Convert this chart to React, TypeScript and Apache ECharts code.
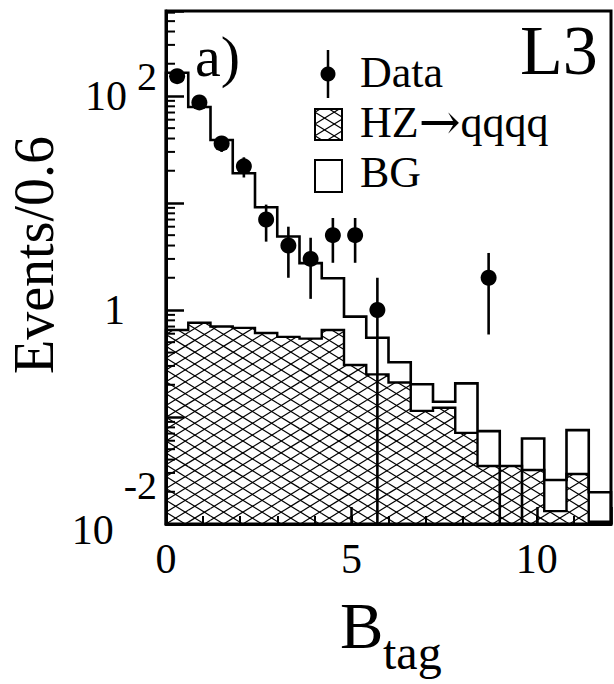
import React, { useEffect, useRef } from 'react';
import * as echarts from 'echarts';

// ---- data ----
const binCenters = [0.3, 0.9, 1.5, 2.1, 2.7, 3.3, 3.9, 4.5, 5.1, 5.7, 6.3, 6.9, 7.5, 8.1, 8.7, 9.3, 9.9, 10.5, 11.1, 11.7];
const BIN_WIDTH = 0.6;
const hzSignal = [0.65, 0.76, 0.70, 0.68, 0.61, 0.56, 0.54, 0.65, 0.306, 0.25, 0.21, 0.114, 0.122, 0.071, 0.0348, 0.0348, 0.032, 0.0132, 0.0293, 0.0105];
const background = [164, 78, 38, 18.3, 8.5, 4.3, 2.2, 1.33, 0.56, 0.30, 0.115, 0.088, 0.017, 0.135, 0.039, 0, 0.031, 0.0126, 0.046, 0.0093];
const dataCounts = [153, 87, 36, 22, 7, 4, 3, 5, 5, 1, 0, 0, 0, 0, 2, 0, 0, 0, 0, 0];
const dataErrors = [12.4, 9.3, 6.0, 4.7, 2.65, 2.0, 1.73, 2.24, 2.24, 1.0, 0, 0, 0, 0, 1.41, 0, 0, 0, 0, 0];
const xLabelValues = [0, 5, 10];
const yLabelValues = [0.01, 1, 100];
const yMinorMultipliers = [2, 3, 4, 5, 6, 7, 8, 9];
const yDecades = [0.01, 0.1, 1, 10, 100];
const legendLabels = ['Data', 'HZ{arr|→}qqqq', 'BG'];

const X_MIN = 0;
const X_MAX = 12;
const Y_MIN = 0.01;
const Y_MAX = 622;

const FONT = "'Liberation Serif', 'DejaVu Serif', serif";
const HATCH_SPACING = 11.85;
const HATCH_SLOPE = 0.617;

function hatchSegments(x0: number, x1: number, yTop: number, yBot: number, ox: number, oy: number) {
  const segs: { x1: number; y1: number; x2: number; y2: number }[] = [];
  if (x1 - x0 < 0.5 || yBot - yTop < 0.5) return segs;
  for (const sign of [1, -1]) {
    const m = sign * HATCH_SLOPE;
    const ya = oy + m * (x0 - ox);
    const yb = oy + m * (x1 - ox);
    const lo = Math.min(ya, yb);
    const hi = Math.max(ya, yb);
    const kMin = Math.ceil((yTop - hi) / HATCH_SPACING);
    const kMax = Math.floor((yBot - lo) / HATCH_SPACING);
    for (let k = kMin; k <= kMax; k++) {
      const b = oy - m * ox + k * HATCH_SPACING;
      const xt = (yTop - b) / m;
      const xbt = (yBot - b) / m;
      const xs = Math.max(x0, Math.min(xt, xbt));
      const xe = Math.min(x1, Math.max(xt, xbt));
      if (xe - xs > 0.3) segs.push({ x1: xs, y1: b + m * xs, x2: xe, y2: b + m * xe });
    }
  }
  return segs;
}

function hatchChildren(segs: { x1: number; y1: number; x2: number; y2: number }[]) {
  return segs.map((s) => ({
    type: 'line',
    shape: s,
    style: { stroke: '#000', lineWidth: 1.2 },
    silent: true,
  }));
}

function stepOutline(api: any, values: number[]) {
  const pts: number[][] = [];
  const first = api.coord([binCenters[0] - BIN_WIDTH / 2, Y_MIN]);
  pts.push(first);
  for (let i = 0; i < binCenters.length; i++) {
    const v = values[i] > Y_MIN ? values[i] : Y_MIN;
    const a = api.coord([binCenters[i] - BIN_WIDTH / 2, v]);
    const b = api.coord([binCenters[i] + BIN_WIDTH / 2, v]);
    pts.push(a, b);
  }
  const last = api.coord([binCenters[binCenters.length - 1] + BIN_WIDTH / 2, Y_MIN]);
  pts.push(last);
  return pts;
}

const minorYTicks: number[] = [];
yDecades.forEach((d) => {
  yMinorMultipliers.forEach((m) => {
    const v = d * m;
    if (v < Y_MAX) minorYTicks.push(v);
  });
});

function yLabel(v: number) {
  const lg = Math.log10(v);
  const e = Math.round(lg);
  if (Math.abs(lg - e) > 1e-6) return '';
  if (!yLabelValues.some((y) => Math.abs(Math.log10(y) - e) < 1e-6)) return '';
  if (e === 0) return '{one|1}';
  if (e > 0) return '{b|10}{s|' + e + '}';
  return '{b2|10}{sm|' + e + '}';
}

const totalValues = binCenters.map((_, i) => (background[i] > 0 ? hzSignal[i] + background[i] : 0));

const option: any = {
  animation: false,
  backgroundColor: '#fff',
  textStyle: { fontFamily: FONT, color: '#000' },
  grid: {
    left: 166,
    top: 11,
    width: 452,
    height: 513,
    show: true,
    borderColor: '#000',
    borderWidth: 3,
    backgroundColor: 'transparent',
  },
  xAxis: [
    {
      type: 'value',
      min: X_MIN,
      max: X_MAX,
      interval: 5,
      position: 'bottom',
      axisLine: { show: true, onZero: false, lineStyle: { color: '#000', width: 3 } },
      axisTick: { show: true, inside: true, length: 17, lineStyle: { color: '#000', width: 2.5 } },
      axisLabel: {
        show: true,
        margin: 14,
        fontSize: 42,
        fontFamily: FONT,
        color: '#000',
        formatter: (v: number) => (xLabelValues.includes(v) ? String(v) : ''),
      },
      splitLine: { show: false },
    },
    {
      type: 'value',
      min: X_MIN,
      max: X_MAX,
      interval: 1,
      position: 'bottom',
      axisLine: { show: false },
      axisTick: { show: true, inside: true, length: 8, lineStyle: { color: '#000', width: 2 } },
      axisLabel: { show: false },
      splitLine: { show: false },
    },
  ],
  yAxis: {
    type: 'log',
    logBase: 10,
    min: Y_MIN,
    max: Y_MAX,
    axisLine: { show: true, onZero: false, lineStyle: { color: '#000', width: 3 } },
    axisTick: { show: true, inside: true, length: 18, lineStyle: { color: '#000', width: 2.5 } },
    minorTick: { show: false },
    splitLine: { show: false },
    axisLabel: {
      show: true,
      margin: 9,
      color: '#000',
      formatter: yLabel,
      rich: {
        b: { fontSize: 42, fontFamily: FONT, color: '#000', lineHeight: 78, verticalAlign: 'middle' },
        s: { fontSize: 40, fontFamily: FONT, color: '#000', verticalAlign: 'top', padding: [0, 0, 0, 10] },
        one: { fontSize: 42, fontFamily: FONT, color: '#000', padding: [0, 32, 0, 0] },
        b2: { fontSize: 42, fontFamily: FONT, color: '#000', lineHeight: 118, verticalAlign: 'middle', padding: [12, 0, 0, 0] },
        sm: { fontSize: 40, fontFamily: FONT, color: '#000', verticalAlign: 'top', padding: [0, 0, 0, 10] },
      },
    },
  },
  graphic: [
    {
      type: 'text',
      x: 34,
      y: 255,
      rotation: Math.PI / 2,
      style: { text: 'Events/0.6', fontSize: 56, fontFamily: FONT, fill: '#000', align: 'center', verticalAlign: 'middle' },
    },
    {
      type: 'text',
      x: 340,
      y: 626,
      style: { text: 'B', fontSize: 65, fontFamily: FONT, fill: '#000', align: 'left', verticalAlign: 'middle' },
    },
    {
      type: 'text',
      x: 383,
      y: 652,
      style: { text: 'tag', fontSize: 48, fontFamily: FONT, fill: '#000', align: 'left', verticalAlign: 'middle' },
    },
    {
      type: 'text',
      x: 195,
      y: 56,
      style: { text: 'a)', fontSize: 58, fontFamily: FONT, fill: '#000', align: 'left', verticalAlign: 'middle' },
    },
    {
      type: 'text',
      x: 520,
      y: 50,
      style: { text: 'L3', fontSize: 70, fontFamily: FONT, fill: '#000', align: 'left', verticalAlign: 'middle' },
    },
    // legend: Data marker
    { type: 'line', shape: { x1: 328, y1: 50, x2: 328, y2: 98 }, style: { stroke: '#000', lineWidth: 2.5 } },
    { type: 'circle', shape: { cx: 328, cy: 74, r: 7.5 }, style: { fill: '#000' } },
    // legend: HZ hatched box
    {
      type: 'group',
      children: hatchChildren(hatchSegments(315, 342, 109, 140, 315, 124)),
    },
    { type: 'rect', shape: { x: 315, y: 109, width: 27, height: 31 }, style: { fill: 'none', stroke: '#000', lineWidth: 2 } },
    // legend: BG open box
    { type: 'rect', shape: { x: 315, y: 160, width: 27, height: 32 }, style: { fill: '#fff', stroke: '#000', lineWidth: 2 } },
    // legend labels (one multi-line text)
    {
      type: 'text',
      x: 360,
      y: 47,
      style: {
        text: legendLabels.join('\n'),
        fontSize: 44,
        fontFamily: FONT,
        fill: '#000',
        lineHeight: 50,
        align: 'left',
        verticalAlign: 'top',
        rich: {
          arr: { fontSize: 50, fontFamily: "'DejaVu Serif', serif", fill: '#000', lineHeight: 50 },
        },
      },
    },
  ],
  series: [
    {
      name: 'HZ→qqqq',
      type: 'custom',
      xAxisIndex: 0,
      yAxisIndex: 0,
      data: binCenters.map((c, i) => [c, hzSignal[i]]),
      encode: { x: 0, y: 1 },
      silent: true,
      renderItem: (params: any, api: any) => {
        const c = api.value(0);
        const v = api.value(1);
        const tl = api.coord([c - BIN_WIDTH / 2, v]);
        const br = api.coord([c + BIN_WIDTH / 2, Y_MIN]);
        const o = api.coord([X_MIN, Y_MIN]);
        return { type: 'group', children: hatchChildren(hatchSegments(tl[0], br[0], tl[1], br[1], o[0], o[1])) };
      },
      z: 2,
    },
    {
      name: 'HZ outline',
      type: 'custom',
      data: [[1, 1]],
      silent: true,
      renderItem: (params: any, api: any) => ({
        type: 'polyline',
        shape: { points: stepOutline(api, hzSignal) },
        style: { stroke: '#000', lineWidth: 2.4, fill: null },
      }),
      z: 3,
    },
    {
      name: 'BG',
      type: 'custom',
      data: [[1, 1]],
      silent: true,
      renderItem: (params: any, api: any) => ({
        type: 'polyline',
        shape: { points: stepOutline(api, totalValues) },
        style: { stroke: '#000', lineWidth: 2.6, fill: null },
      }),
      z: 4,
    },
    {
      name: 'Data errors',
      type: 'custom',
      data: binCenters
        .map((c, i) => [c, dataCounts[i], dataErrors[i]])
        .filter((d) => d[1] > 0),
      encode: { x: 0, y: 1 },
      silent: true,
      renderItem: (params: any, api: any) => {
        const c = api.value(0);
        const n = api.value(1);
        const e = api.value(2);
        const hi = api.coord([c, n + e]);
        const lo = api.coord([c, Math.max(n - e, Y_MIN)]);
        return {
          type: 'line',
          shape: { x1: hi[0], y1: hi[1], x2: lo[0], y2: lo[1] },
          style: { stroke: '#000', lineWidth: 2.6 },
        };
      },
      z: 5,
    },
    {
      name: 'Data',
      type: 'scatter',
      data: binCenters.map((c, i) => [c, dataCounts[i]]).filter((d) => d[1] > 0),
      symbol: 'circle',
      symbolSize: 16,
      itemStyle: { color: '#000', opacity: 1 },
      silent: true,
      z: 6,
    },
    {
      name: 'y minor ticks',
      type: 'custom',
      data: minorYTicks.map((v) => [X_MIN, v]),
      encode: { x: 0, y: 1 },
      silent: true,
      renderItem: (params: any, api: any) => {
        const p = api.coord([X_MIN, api.value(1)]);
        return {
          type: 'line',
          shape: { x1: p[0], y1: p[1], x2: p[0] + 9, y2: p[1] },
          style: { stroke: '#000', lineWidth: 2 },
        };
      },
      z: 7,
    },
  ],
};

export default function App() {
  const ref = useRef<HTMLDivElement>(null);
  useEffect(() => {
    if (!ref.current) return;
    const chart = echarts.init(ref.current, null, { renderer: 'svg' });
    chart.setOption(option);
    return () => chart.dispose();
  }, []);
  return (
    <div
      ref={ref}
      style={{ position: 'fixed', left: 0, top: 0, width: 614, height: 684, background: '#fff' }}
    />
  );
}
